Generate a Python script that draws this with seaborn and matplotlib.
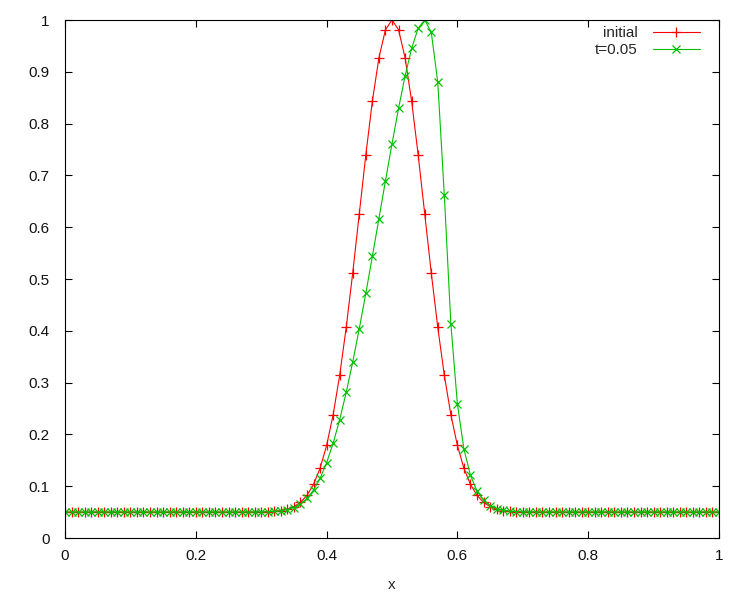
import matplotlib
matplotlib.use("Agg")
import matplotlib.pyplot as plt
import seaborn as sns
import pandas as pd

x_grid = [0.00, 0.01, 0.02, 0.03, 0.04, 0.05, 0.06, 0.07, 0.08, 0.09,
          0.10, 0.11, 0.12, 0.13, 0.14, 0.15, 0.16, 0.17, 0.18, 0.19,
          0.20, 0.21, 0.22, 0.23, 0.24, 0.25, 0.26, 0.27, 0.28, 0.29,
          0.30, 0.31, 0.32, 0.33, 0.34, 0.35, 0.36, 0.37, 0.38, 0.39,
          0.40, 0.41, 0.42, 0.43, 0.44, 0.45, 0.46, 0.47, 0.48, 0.49,
          0.50, 0.51, 0.52, 0.53, 0.54, 0.55, 0.56, 0.57, 0.58, 0.59,
          0.60, 0.61, 0.62, 0.63, 0.64, 0.65, 0.66, 0.67, 0.68, 0.69,
          0.70, 0.71, 0.72, 0.73, 0.74, 0.75, 0.76, 0.77, 0.78, 0.79,
          0.80, 0.81, 0.82, 0.83, 0.84, 0.85, 0.86, 0.87, 0.88, 0.89,
          0.90, 0.91, 0.92, 0.93, 0.94, 0.95, 0.96, 0.97, 0.98, 0.99,
          1.00]

initial = [0.05, 0.05, 0.05, 0.05, 0.05, 0.05, 0.05, 0.05, 0.05, 0.05,
           0.05, 0.05, 0.05, 0.05, 0.05, 0.05, 0.05, 0.05, 0.05, 0.05,
           0.05, 0.05, 0.05, 0.05, 0.05, 0.05, 0.05, 0.05, 0.05, 0.0501,
           0.0503, 0.0507, 0.0515, 0.0529, 0.0557, 0.0606, 0.0688, 0.0823, 0.1033, 0.1345,
           0.1786, 0.2380, 0.3141, 0.4065, 0.5124, 0.6262, 0.7398, 0.8435, 0.9270, 0.9812,
           1.0000, 0.9812, 0.9270, 0.8435, 0.7398, 0.6262, 0.5124, 0.4065, 0.3141, 0.2380,
           0.1786, 0.1345, 0.1033, 0.0823, 0.0688, 0.0606, 0.0557, 0.0529, 0.0515, 0.0507,
           0.0503, 0.0501, 0.05, 0.05, 0.05, 0.05, 0.05, 0.05, 0.05, 0.05,
           0.05, 0.05, 0.05, 0.05, 0.05, 0.05, 0.05, 0.05, 0.05, 0.05,
           0.05, 0.05, 0.05, 0.05, 0.05, 0.05, 0.05, 0.05, 0.05, 0.05,
           0.05]

t005 = [0.05, 0.05, 0.05, 0.05, 0.05, 0.05, 0.05, 0.05, 0.05, 0.05,
        0.05, 0.05, 0.05, 0.05, 0.05, 0.05, 0.05, 0.05, 0.05, 0.05,
        0.05, 0.05, 0.05, 0.05, 0.05, 0.05, 0.05, 0.05, 0.05, 0.0501,
        0.0503, 0.0506, 0.0512, 0.0525, 0.0548, 0.0588, 0.0657, 0.0764, 0.0925, 0.1151,
        0.1452, 0.1830, 0.2285, 0.2812, 0.3402, 0.4044, 0.4727, 0.5439, 0.6166, 0.6896,
        0.7611, 0.8293, 0.8918, 0.9451, 0.9840, 1.0000, 0.9766, 0.8799, 0.6617, 0.4131,
        0.2585, 0.1714, 0.1207, 0.0908, 0.0731, 0.0627, 0.0568, 0.0535, 0.0518, 0.0508,
        0.0504, 0.0502, 0.0501, 0.05, 0.05, 0.05, 0.05, 0.05, 0.05, 0.05,
        0.05, 0.05, 0.05, 0.05, 0.05, 0.05, 0.05, 0.05, 0.05, 0.05,
        0.05, 0.05, 0.05, 0.05, 0.05, 0.05, 0.05, 0.05, 0.05, 0.05,
        0.05]

series_labels = ["initial", "t=0.05"]
x_ticks = [0, 0.2, 0.4, 0.6, 0.8, 1]
x_tick_labels = ["0", "0.2", "0.4", "0.6", "0.8", "1"]
y_ticks = [0, 0.1, 0.2, 0.3, 0.4, 0.5, 0.6, 0.7, 0.8, 0.9, 1]
y_tick_labels = ["0", "0.1", "0.2", "0.3", "0.4", "0.5", "0.6", "0.7", "0.8", "0.9", "1"]

sns.set_style("ticks")
plt.rcParams["font.family"] = ["Liberation Sans", "DejaVu Sans"]
plt.rcParams["font.size"] = 11

fig = plt.figure(figsize=(7.5, 6), dpi=100)
ax = fig.add_axes([65 / 750, 62 / 600, 654 / 750, 518 / 600])

df1 = pd.DataFrame({"x": x_grid, "y": initial})
df2 = pd.DataFrame({"x": x_grid, "y": t005})

sns.lineplot(data=df1, x="x", y="y", ax=ax, color="#ff0000", linewidth=0.8,
             marker="+", markersize=7, markeredgewidth=0.9,
             markeredgecolor="#ff0000", label=series_labels[0])
sns.lineplot(data=df2, x="x", y="y", ax=ax, color="#00c000", linewidth=0.8,
             marker="x", markersize=5.5, markeredgewidth=0.9,
             markeredgecolor="#00c000", label=series_labels[1])

ax.set_xlim(0, 1)
ax.set_ylim(0, 1)
ax.set_xticks(x_ticks)
ax.set_xticklabels(x_tick_labels)
ax.set_yticks(y_ticks)
ax.set_yticklabels(y_tick_labels)
ax.set_xlabel("x", fontsize=11, labelpad=11)
ax.set_ylabel("")

for s in ax.spines.values():
    s.set_visible(True)
    s.set_color("black")
    s.set_linewidth(0.8)

ax.tick_params(axis="both", direction="in", top=True, right=True,
               length=5, width=0.8, colors="black", labelcolor="#111111")
ax.tick_params(axis="x", pad=8)
ax.tick_params(axis="y", pad=11)

leg = ax.legend(loc="upper right", bbox_to_anchor=(0.971, 0.988),
                frameon=False, markerfirst=False, borderpad=0,
                borderaxespad=0, handlelength=3.1, handletextpad=1.0,
                labelspacing=0.2, fontsize=11)

fig.savefig("out.png", dpi=100)
